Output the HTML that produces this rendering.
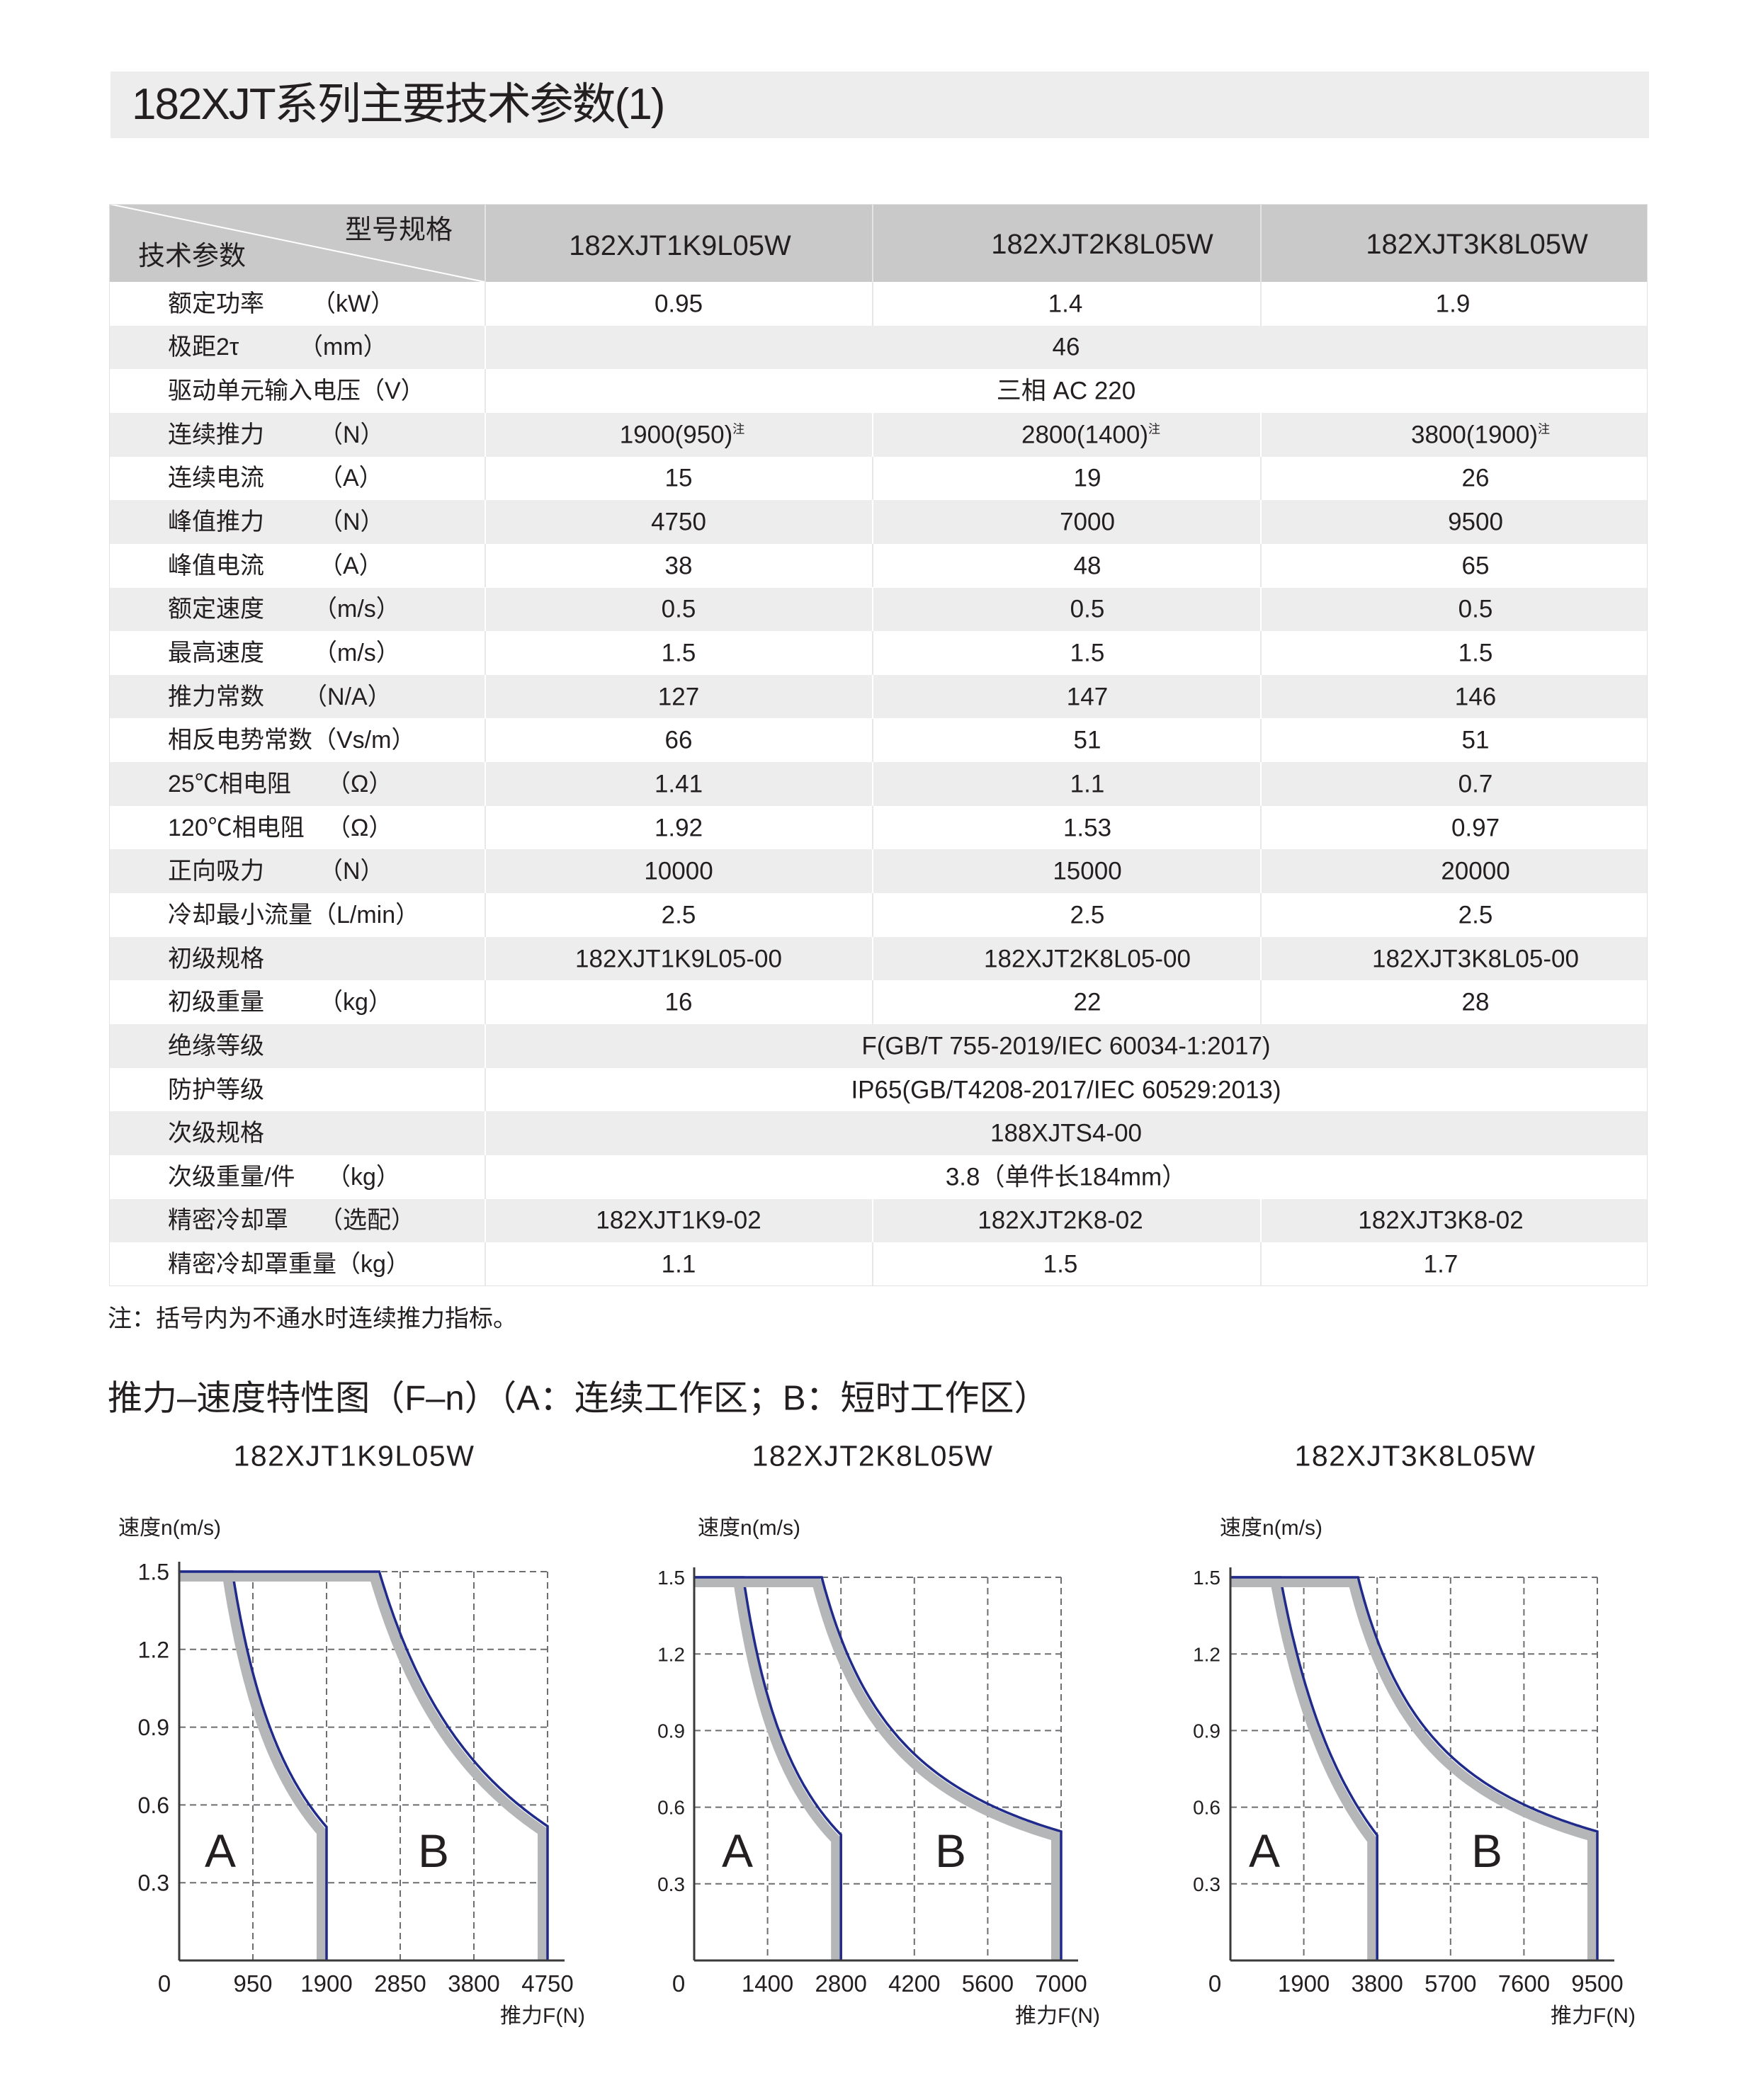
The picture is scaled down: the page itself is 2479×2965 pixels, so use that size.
<!DOCTYPE html>
<html><head><meta charset="utf-8">
<style>
*{margin:0;padding:0;box-sizing:border-box}
body{width:2479px;height:2965px;background:#fff;position:relative;overflow:hidden;font-family:"Liberation Sans","Noto Sans CJK SC",sans-serif;color:#231f20}
.a{position:absolute;white-space:nowrap;line-height:1}
.c{transform:translate(-50%,-50%)}
.l{transform:translateY(-50%)}
.row{position:absolute;left:154px;width:2172px;height:61.6px}
.lbl{font-size:34px}
.val{font-size:35px}
sup{font-size:17px;vertical-align:14px}
</style></head><body>
<div class="a" style="left:156px;top:101px;width:2172px;height:94px;background:#ededee"></div>
<div class="a l" style="left:186px;top:148px;font-size:62px;letter-spacing:-2px">182XJT系列主要技术参数(1)</div>

<div class="a" style="left:154px;top:288px;width:2172px;height:110px;background:#c9c9ca"></div>
<svg class="a" style="left:154px;top:288px" width="530" height="110"><line x1="0" y1="0" x2="530" y2="110" stroke="#fff" stroke-width="2"/></svg>
<div class="a" style="left:684px;top:288px;width:2px;height:110px;background:#e4e4e4"></div>
<div class="a" style="left:1231px;top:288px;width:2px;height:110px;background:#e4e4e4"></div>
<div class="a" style="left:1779px;top:288px;width:2px;height:110px;background:#e4e4e4"></div>
<div class="a l" style="left:195px;top:362px;font-size:38px">技术参数</div>
<div class="a l" style="left:487px;top:325px;font-size:38px">型号规格</div>
<div class="a c" style="left:960px;top:347px;font-size:40px">182XJT1K9L05W</div>
<div class="a c" style="left:1556px;top:345px;font-size:40px">182XJT2K8L05W</div>
<div class="a c" style="left:2085px;top:345px;font-size:40px">182XJT3K8L05W</div>

<div id="tbl"></div>

<div class="a l" style="left:152px;top:1862px;font-size:34px">注：括号内为不通水时连续推力指标。</div>
<div class="a l" style="left:152px;top:1975px;font-size:49px">推力–速度特性图（F–n）（A：连续工作区；B：短时工作区）</div>
<div class="a c" style="left:500px;top:2056px;font-size:41px;letter-spacing:1.5px">182XJT1K9L05W</div>
<div class="a c" style="left:1232px;top:2056px;font-size:41px;letter-spacing:1.5px">182XJT2K8L05W</div>
<div class="a c" style="left:1998px;top:2056px;font-size:41px;letter-spacing:1.5px">182XJT3K8L05W</div>

<svg id="ch" class="a" style="left:0;top:0" width="2479" height="2965"></svg>

<script>
var rows=[
["额定功率","（kW）",452,["0.95","1.4","1.9"],[958,1504,2051]],
["极距2τ","（mm）",434,"46"],
["驱动单元输入电压（V）","",0,"三相 AC 220"],
["连续推力","（N）",462,["1900(950)<sup>注</sup>","2800(1400)<sup>注</sup>","3800(1900)<sup>注</sup>"],[963,1540,2090]],
["连续电流","（A）",462,["15","19","26"]],
["峰值推力","（N）",462,["4750","7000","9500"]],
["峰值电流","（A）",462,["38","48","65"]],
["额定速度","（m/s）",454,["0.5","0.5","0.5"]],
["最高速度","（m/s）",454,["1.5","1.5","1.5"]],
["推力常数","（N/A）",440,["127","147","146"]],
["相反电势常数","（Vs/m）",0,["66","51","51"]],
["25℃相电阻","（Ω）",473,["1.41","1.1","0.7"]],
["120℃相电阻","（Ω）",473,["1.92","1.53","0.97"]],
["正向吸力","（N）",462,["10000","15000","20000"]],
["冷却最小流量","（L/min）",0,["2.5","2.5","2.5"]],
["初级规格","",0,["182XJT1K9L05-00","182XJT2K8L05-00","182XJT3K8L05-00"]],
["初级重量","（kg）",462,["16","22","28"]],
["绝缘等级","",0,"F(GB/T 755-2019/IEC 60034-1:2017)"],
["防护等级","",0,"IP65(GB/T4208-2017/IEC 60529:2013)"],
["次级规格","",0,"188XJTS4-00"],
["次级重量/件","（kg）",473,"3.8（单件长184mm）"],
["精密冷却罩","（选配）",462,["182XJT1K9-02","182XJT2K8-02","182XJT3K8-02"],[958,1497,2034]],
["精密冷却罩重量（kg）","",0,["1.1","1.5","1.7"],[958,1497,2034]]
];
var h="";
rows.forEach(function(r,i){
 var top=398+61.65*i, cy=top+30.8, bg=(i%2==0)?"#fff":"#ededee", sep=(i%2==0)?"#e8e8e8":"#fff";
 h+='<div class="row" style="top:'+top+'px;background:'+bg+';border-bottom:1px solid '+(i==22?'#e2e2e2':bg)+'"></div>';
 h+='<div class="a" style="left:684px;top:'+top+'px;width:2px;height:61.6px;background:'+sep+'"></div>';
 if(typeof r[3]!="string"){
  h+='<div class="a" style="left:1231px;top:'+top+'px;width:2px;height:61.6px;background:'+sep+'"></div>';
  h+='<div class="a" style="left:1779px;top:'+top+'px;width:2px;height:61.6px;background:'+sep+'"></div>';
 }
 if(r[1]&&r[2]){
  h+='<div class="a l lbl" style="left:237px;top:'+cy+'px">'+r[0]+'</div>';
  h+='<div class="a l lbl" style="left:'+(r[2]-12)+'px;top:'+cy+'px">'+r[1]+'</div>';
 } else h+='<div class="a l lbl" style="left:237px;top:'+cy+'px">'+r[0]+r[1]+'</div>';
 if(typeof r[3]=="string"){
  h+='<div class="a c val" style="left:1505px;top:'+cy+'px">'+r[3]+'</div>';
 } else {
  var xs=r[4]||[958,1535,2083];
  for(var k=0;k<3;k++) h+='<div class="a c val" style="left:'+xs[k]+'px;top:'+cy+'px">'+r[3][k]+'</div>';
 }
});
h+='<div class="a" style="left:154px;top:288px;width:2172px;height:1528px;border:1px solid #e2e2e2"></div>';
document.getElementById("tbl").innerHTML=h;

var charts=[
{ax:253,yt:2219,xm:773,F:4750,ticks:[950,1900,2850,3800,4750],yl:239,yf:32,zx:232,vx:167,fx:826,
 A:[[686,1.5],[854,1.2],[1194,0.9],[1717,0.6],[1900,0.515]],B:[[2580,1.5],[2954,1.2],[3444,0.9],[4377,0.6],[4750,0.518]],la:311,lb:612},
{ax:980,yt:2227,xm:1498,F:7000,ticks:[1400,2800,4200,5600,7000],yl:967,yf:28,zx:958,vx:985,fx:1553,
 A:[[938,1.5],[1159,1.2],[1676,0.9],[2366,0.6],[2800,0.492]],B:[[2434,1.5],[2917,1.2],[3814,0.9],[5607,0.6],[7000,0.505]],la:1041,lb:1342},
{ax:1737,yt:2227,xm:2255,F:9500,ticks:[1900,3800,5700,7600,9500],yl:1723,yf:28,zx:1715,vx:1722,fx:2309,
 A:[[1292,1.5],[1731,1.2],[2340,0.9],[3276,0.6],[3800,0.49]],B:[[3304,1.5],[3931,1.2],[5148,0.9],[7581,0.6],[9500,0.505]],la:1785,lb:2099}
];
var y0=2768,s="";
var FF='font-family="Liberation Sans, Noto Sans CJK SC, sans-serif" fill="#231f20"';
// hyperbola v=a/(F-b)+c through first and last points, b chosen to fit middle points
function fitH(p){
 var F1=p[0][0],Fe=p[p.length-1][0],ve=p[p.length-1][1],best=null,be=1e18;
 for(var i=1;i<=4000;i++){
  var b=F1-Math.pow(10,i/800+0);
  if(!(b<F1))continue;
  var a=(1.5-ve)/(1/(F1-b)-1/(Fe-b)),c=1.5-a/(F1-b),e=0;
  for(var j=1;j<p.length-1;j++){var v=a/(p[j][0]-b)+c;e+=(v-p[j][1])*(v-p[j][1]);}
  if(e<be){be=e;best=[a,b,c];}
 }
 return best;
}
charts.forEach(function(c){
 var X=function(f){return c.ax+(c.xm-c.ax)*f/c.F},Y=function(v){return y0-(y0-c.yt)*v/1.5};
 for(var k=1;k<=5;k++){
  var yy=Y(0.3*k);
  s+='<line x1="'+c.ax+'" y1="'+yy+'" x2="'+c.xm+'" y2="'+yy+'" stroke="#6d6e71" stroke-width="2" stroke-dasharray="9,6"/>';
  var xx=X(c.ticks[k-1]);
  s+='<line x1="'+xx+'" y1="'+c.yt+'" x2="'+xx+'" y2="'+y0+'" stroke="#6d6e71" stroke-width="2" stroke-dasharray="9,6"/>';
  s+='<text x="'+c.yl+'" y="'+(yy+c.yf*0.36)+'" text-anchor="end" font-size="'+c.yf+'" '+FF+'>'+(0.3*k).toFixed(1)+'</text>';
  s+='<text x="'+xx+'" y="'+2812+'" text-anchor="middle" font-size="33" '+FF+'>'+c.ticks[k-1]+'</text>';
 }
 s+='<text x="'+c.zx+'" y="2812" text-anchor="middle" font-size="33" '+FF+'>0</text>';
 s+='<text x="'+c.vx+'" y="2167" font-size="30" '+FF+'>速度n(m/s)</text>';
 s+='<text x="'+c.fx+'" y="2856" text-anchor="end" font-size="30" '+FF+'>推力F(N)</text>';
 [c.A,c.B].forEach(function(pts){
  var H=fitH(pts),F1=pts[0][0],Fe=pts[pts.length-1][0],P=[];
  for(var t=0;t<=80;t++){var F=F1+(Fe-F1)*t/80;P.push([X(F),Y(H[0]/(F-H[1])+H[2])]);}
  var last=P[P.length-1];
  function path(dx,dy){
   var d="M"+c.ax+","+(P[0][1]+dy);
   P.forEach(function(q){d+=" L"+(q[0]+dx).toFixed(1)+","+(q[1]+dy).toFixed(1);});
   return d+" L"+(last[0]+dx)+","+y0;
  }
  s+='<path d="'+path(-7,7)+'" fill="none" stroke="#b5b6b8" stroke-width="14" stroke-linejoin="round"/>';
  s+='<path d="'+path(0,0)+'" fill="none" stroke="#1f2a8a" stroke-width="3.5"/>';
 });
 s+='<line x1="'+c.ax+'" y1="'+(c.yt-14)+'" x2="'+c.ax+'" y2="'+y0+'" stroke="#3a3a3a" stroke-width="3"/>';
 s+='<line x1="'+c.ax+'" y1="'+y0+'" x2="'+(c.xm+24)+'" y2="'+y0+'" stroke="#3a3a3a" stroke-width="3"/>';
 s+='<text x="'+c.la+'" y="2636" text-anchor="middle" font-size="66" '+FF+'>A</text>';
 s+='<text x="'+c.lb+'" y="2636" text-anchor="middle" font-size="66" '+FF+'>B</text>';
});
document.getElementById("ch").innerHTML=s;
</script>
</body></html>
